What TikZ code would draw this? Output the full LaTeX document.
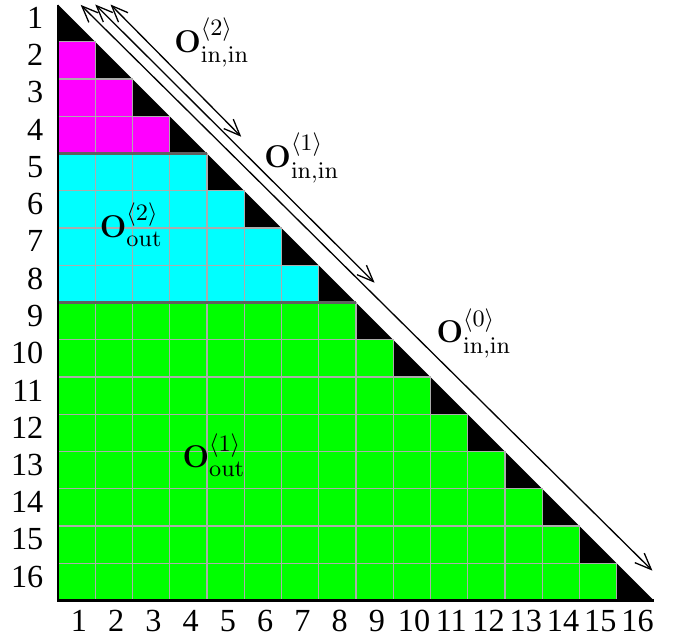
\documentclass[tikz,border=0pt]{standalone}
\usepackage{amsmath,amssymb}
\usepackage[no-math]{fontspec}
\setmainfont{Liberation Serif}
\usepackage{tikz}
\usetikzlibrary{arrows.meta,positioning}
\definecolor{blkA}{RGB}{255,0,255}
\definecolor{blkB}{RGB}{0,255,255}
\definecolor{blkC}{RGB}{0,255,0}

\begin{document}
\begin{tikzpicture}[
    x=0.5cm, y=0.5cm,
    font=\fontsize{12.3}{14}\selectfont,
    cell/.style={draw=gray!65, line width=0.5pt},
    sep/.style={draw=gray!75!black, line width=0.9pt},
    frame/.style={line width=1pt},
    arr/.style={{Straight Barb[length=2.2mm,width=1.8mm]}-{Straight Barb[length=2.2mm,width=1.8mm]}, line width=0.5pt},
    idx/.style={inner sep=0pt},
    lbl/.style={font=\fontsize{13}{15}\selectfont, inner sep=1pt}
  ]
  \useasboundingbox (-1.557,0.121) rectangle (16.54,-17.09);

  % zero upper part
  \fill[black] (0,0) -- (0,-16) -- (16,-16) -- cycle;

  % strictly lower blocks
  \foreach \lo/\hi/\col in {2/4/blkA, 5/8/blkB, 9/16/blkC}{
    \foreach \i in {\lo,...,\hi}{
      \pgfmathtruncatemacro{\jmax}{\i-1}
      \foreach \j in {1,...,\jmax}
        \draw[cell, fill=\col] (\j-1,-\i+1) rectangle (\j,-\i);
    }
  }
  \draw[sep] (0,-4) -- (4,-4);
  \draw[sep] (0,-8) -- (8,-8);
  \draw[frame] (0,0) -- (0,-16) -- (16,-16);

  % indices
  \foreach \i in {1,...,16}
    \node[idx, anchor=east] (r\i) at (-0.38,-\i+0.64) {\i};
  \foreach \j in {1,...,16}
    \node[idx] (c\j) at (\j-0.44,-16.55) {\j};

  % diagonal ranges
  \coordinate (a2s) at (1.41,0);
  \coordinate (a2e) at (4.92,-3.55);
  \coordinate (a1s) at (1.0,0);
  \coordinate (a1e) at (8.5,-7.47);
  \coordinate (a0s) at (0.61,-0.01);
  \coordinate (a0e) at (15.96,-15.2);
  \draw[arr] (a2s) -- (a2e);
  \draw[arr] (a1s) -- (a1e);
  \draw[arr] (a0s) -- (a0e);

  \node[lbl] (oin2)  at (4.13,-1.03)  {$\mathbf{O}^{\langle 2\rangle}_{\mathrm{in,in}}$};
  \node[lbl] (oin1)  at (6.55,-4.12)  {$\mathbf{O}^{\langle 1\rangle}_{\mathrm{in,in}}$};
  \node[lbl] (oin0)  at (11.17,-8.82) {$\mathbf{O}^{\langle 0\rangle}_{\mathrm{in,in}}$};
  \node[lbl] (oout2) at (1.97,-5.92)  {$\mathbf{O}^{\langle 2\rangle}_{\mathrm{out}}$};
  \node[lbl] (oout1) at (4.19,-12.1)  {$\mathbf{O}^{\langle 1\rangle}_{\mathrm{out}}$};
\end{tikzpicture}
\end{document}
